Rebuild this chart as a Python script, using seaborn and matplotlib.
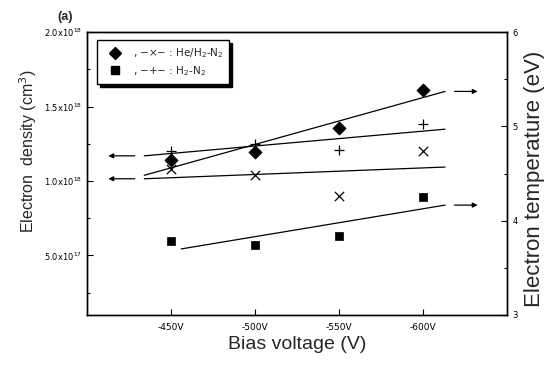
import numpy as np
import pandas as pd
import seaborn as sns
import matplotlib.pyplot as plt
from matplotlib.lines import Line2D
from matplotlib.ticker import FixedLocator, FixedFormatter, MultipleLocator

# bias voltage (V)
voltage = [-450, -500, -550, -600]
# electron temperature (eV), right axis
te_he = [4.64, 4.73, 4.98, 5.385]   # diamonds, He/H2-N2
te_h2 = [3.79, 3.74, 3.84, 4.25]    # squares, H2-N2
# electron density (cm^-3), left axis
ne_he = [1.08e18, 1.04e18, 0.90e18, 1.20e18]  # x, He/H2-N2
ne_h2 = [1.20e18, 1.25e18, 1.21e18, 1.38e18]  # +, H2-N2

x_ticks = [-450, -500, -550, -600]
x_ticklabels = ["-450V", "-500V", "-550V", "-600V"]
ne_ticks = [0.5e18, 1.0e18, 1.5e18, 2.0e18]
ne_ticklabels = [r"5.0x10$^{17}$", r"1.0x10$^{18}$", r"1.5x10$^{18}$", r"2.0x10$^{18}$"]
te_ticks = [3, 4, 5, 6]

sns.set_style("ticks")
plt.rcParams["font.family"] = ["Liberation Sans", "DejaVu Sans"]

fig = plt.figure(figsize=(5.55, 3.65), dpi=100)
ax = fig.add_axes([0.157, 0.137, 0.757, 0.775])
ax2 = ax.twinx()


def fit_line(x, y, span):
    k, b = np.polyfit(x, y, 1)
    xs = np.array(span)
    return pd.DataFrame({"x": xs, "y": k * xs + b})


# density: crosses
fit_ne_he = fit_line(voltage, ne_he, [-434, -613])
fit_ne_h2 = fit_line(voltage, ne_h2, [-434, -613])
sns.scatterplot(x=voltage, y=ne_he, marker="x", s=45, color="black", linewidth=0.9, ax=ax)
sns.scatterplot(x=voltage, y=ne_h2, marker="+", s=50, color="black", linewidth=0.9, ax=ax)
sns.lineplot(data=fit_ne_he, x="x", y="y", color="black", lw=0.9, ax=ax)
sns.lineplot(data=fit_ne_h2, x="x", y="y", color="black", lw=0.9, ax=ax)

# temperature: diamonds / squares
fit_te_he = fit_line(voltage, te_he, [-434, -613])
fit_te_h2 = fit_line(voltage, te_h2, [-456, -613])
sns.scatterplot(x=voltage, y=te_he, marker="D", s=45, color="black", edgecolor="black", ax=ax2)
sns.scatterplot(x=voltage, y=te_h2, marker="s", s=38, color="black", edgecolor="black", ax=ax2)
sns.lineplot(data=fit_te_he, x="x", y="y", color="black", lw=0.9, ax=ax2)
sns.lineplot(data=fit_te_h2, x="x", y="y", color="black", lw=0.9, ax=ax2)

arrow = dict(arrowstyle="-|>", color="black", lw=0.9, mutation_scale=7)
for df in (fit_ne_he, fit_ne_h2):
    y0 = df["y"].iloc[0]
    ax.annotate("", xy=(-411, y0), xytext=(-430, y0), arrowprops=arrow)
for df in (fit_te_he, fit_te_h2):
    y1 = df["y"].iloc[-1]
    ax2.annotate("", xy=(-634, y1), xytext=(-617, y1), arrowprops=arrow)

ax.set_xlim(-400, -650)
ax.set_ylim(0.1e18, 2.0e18)
ax2.set_ylim(3, 6)

ax.xaxis.set_major_locator(FixedLocator(x_ticks))
ax.xaxis.set_major_formatter(FixedFormatter(x_ticklabels))
ax.yaxis.set_major_locator(FixedLocator(ne_ticks))
ax.yaxis.set_major_formatter(FixedFormatter(ne_ticklabels))
ax.yaxis.set_minor_locator(MultipleLocator(0.25e18))
ax2.yaxis.set_major_locator(FixedLocator(te_ticks))
ax2.yaxis.set_minor_locator(MultipleLocator(0.5))

for a in (ax, ax2):
    a.tick_params(which="both", direction="in", width=0.8, colors="black")
    a.tick_params(which="major", length=4)
    a.tick_params(which="minor", length=2)
    for s in a.spines.values():
        s.set_linewidth(1.0)
        s.set_color("black")
    a.set_xlabel("")
    a.set_ylabel("")
ax.tick_params(axis="x", pad=6)
for lab in ax.get_xticklabels():
    lab.set_fontfamily("DejaVu Sans")
    lab.set_fontsize(6.5)
for lab in ax.get_yticklabels():
    lab.set_fontfamily("DejaVu Sans")
    lab.set_fontsize(6)
for lab in ax2.get_yticklabels():
    lab.set_fontfamily("DejaVu Sans")
    lab.set_fontsize(6)

ax.set_xlabel("Bias voltage (V)", fontsize=14, labelpad=3)
ax.set_ylabel("Electron  density (cm$^3$)", fontsize=11.5)
ax.yaxis.set_label_coords(-0.115, 0.58)
ax2.set_ylabel("Electron temperature (eV)", fontsize=16)
ax2.yaxis.set_label_coords(1.04, 0.48)

handles = [
    Line2D([], [], marker="D", ls="", color="black", markersize=6.5),
    Line2D([], [], marker="s", ls="", color="black", markersize=6),
]
labels = [", \u2212\u00d7\u2212 : He/H$_2$-N$_2$", ", \u2212+\u2212 : H$_2$-N$_2$"]
leg = ax.legend(handles, labels, loc="upper left", bbox_to_anchor=(0.024, 0.972),
                borderaxespad=0, prop={"family": "DejaVu Sans", "size": 7.5},
                frameon=True, fancybox=False, edgecolor="black",
                framealpha=1, shadow={"color": "black", "alpha": 1},
                handletextpad=0.6, handlelength=2.2, borderpad=0.6, labelspacing=0.35)
leg.get_frame().set_linewidth(1.0)

fig.text(0.117, 0.953, "(a)", fontsize=9, fontweight="bold", ha="center", va="center")

fig.savefig("out.png", dpi=100)
